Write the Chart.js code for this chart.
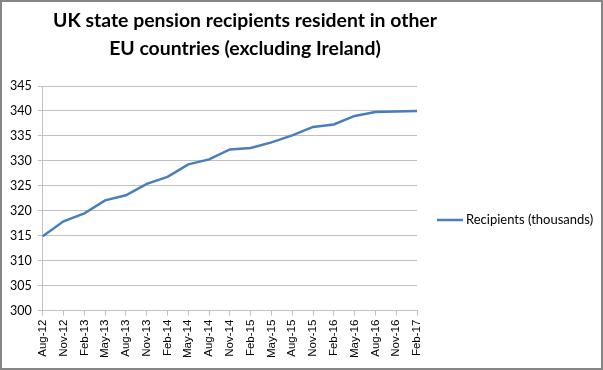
<!DOCTYPE html>
<html lang="en">
<head>
<meta charset="UTF-8">
<title>UK state pension recipients</title>
<script src="https://cdn.jsdelivr.net/npm/chart.js"></script>
<style>
    html, body { margin: 0; padding: 0; background: #fff; }
    #wrap { width: 603px; height: 370px; position: relative; }
</style>
</head>
<body>
<div id="wrap"><canvas id="chart" width="603" height="370"></canvas></div>
<script>
// data
const months = ['Aug-12', 'Nov-12', 'Feb-13', 'May-13', 'Aug-13', 'Nov-13', 'Feb-14', 'May-14',
    'Aug-14', 'Nov-14', 'Feb-15', 'May-15', 'Aug-15', 'Nov-15', 'Feb-16', 'May-16',
    'Aug-16', 'Nov-16', 'Feb-17'];
const recipients = [314.9, 317.9, 319.5, 322.1, 323.1, 325.4, 326.8, 329.3,
    330.3, 332.3, 332.6, 333.7, 335.1, 336.8, 337.3, 339.0,
    339.8, 339.9, 340.0];
const titleLines = ['UK state pension recipients resident in other', 'EU countries (excluding Ireland)'];
const seriesName = 'Recipients (thousands)';

const lineBlue = '#4A7EBB';
const gridGrey = '#c0c0c0';

// frame, title and the legend (built-in right legend is capped too narrow for the label)
const frameTitleLegend = {
    id: 'frameTitleLegend',
    afterDraw(chart) {
        const ctx = chart.ctx;
        ctx.save();
        ctx.strokeStyle = '#868686';
        ctx.lineWidth = 2;
        ctx.strokeRect(1, 1, 601, 368);

        ctx.fillStyle = '#000';
        ctx.font = 'bold 19.4px Lato';
        ctx.textAlign = 'center';
        ctx.textBaseline = 'alphabetic';
        ctx.fillText(titleLines[0], 245, 27);
        ctx.fillText(titleLines[1], 245, 55);

        const ds = chart.data.datasets[0];
        const ly = 220;
        const lx = chart.chartArea.right + 20;
        ctx.strokeStyle = ds.borderColor;
        ctx.lineWidth = ds.borderWidth;
        ctx.beginPath();
        ctx.moveTo(lx, ly);
        ctx.lineTo(lx + 26, ly);
        ctx.stroke();
        ctx.font = '13px Lato';
        ctx.textAlign = 'left';
        ctx.textBaseline = 'middle';
        ctx.fillText(ds.label, lx + 29, ly);
        ctx.restore();
    }
};

new Chart(document.getElementById('chart'), {
    type: 'line',
    data: {
        labels: months,
        datasets: [{
            label: seriesName,
            data: recipients,
            borderColor: lineBlue,
            backgroundColor: lineBlue,
            borderWidth: 2.5,
            pointRadius: 0,
            tension: 0
        }]
    },
    options: {
        responsive: false,
        animation: false,
        layout: { padding: { top: 86, bottom: 8, left: 4, right: 186 } },
        plugins: {
            legend: { display: false },
            tooltip: { enabled: false }
        },
        scales: {
            x: {
                offset: false,
                grid: { display: true, drawOnChartArea: false, drawTicks: true, tickLength: 5, color: gridGrey },
                border: { color: gridGrey },
                ticks: {
                    autoSkip: false,
                    maxRotation: 90,
                    minRotation: 90,
                    color: '#000',
                    font: { family: 'Liberation Sans', size: 11.5 },
                    padding: 4
                }
            },
            y: {
                min: 300,
                max: 345,
                grid: { color: gridGrey, tickLength: 5 },
                border: { color: gridGrey },
                ticks: {
                    stepSize: 5,
                    color: '#000',
                    font: { family: 'Lato', size: 12.5 },
                    padding: 6
                }
            }
        }
    },
    plugins: [frameTitleLegend]
});
</script>
</body>
</html>
